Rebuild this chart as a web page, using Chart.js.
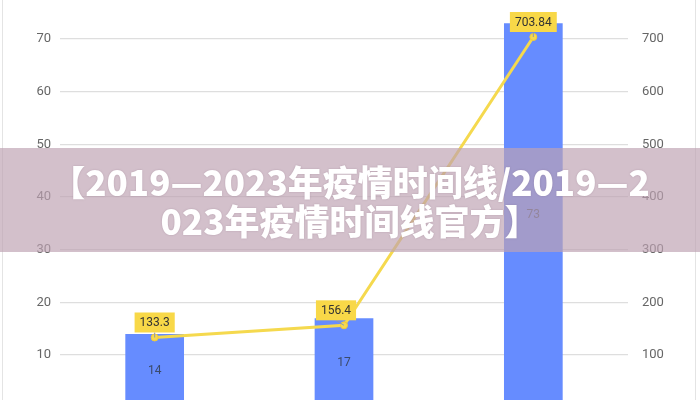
<!DOCTYPE html>
<html>
<head>
<meta charset="utf-8">
<script src="https://cdn.jsdelivr.net/npm/chart.js@4"></script>
<style>
  html, body { margin: 0; padding: 0; background: #fff; }
  #wrap { position: relative; width: 700px; height: 400px; overflow: hidden; }
  #frame { position: absolute; left: 2px; top: -2px; width: 694px; height: 410px; border: 1px solid #e4e4e4; box-sizing: border-box; pointer-events: none; }
  canvas { position: absolute; left: 0; top: 0; }
  #band {
    position: absolute; left: 0; top: 148px; width: 700px; height: 104px;
    background: rgba(190, 162, 178, 0.68);
    display: flex; align-items: center; justify-content: center;
  }
  #band span {
    color: #fff; font-family: "Noto Sans CJK SC", sans-serif; font-weight: 900;
    font-size: 35px; line-height: 39px; text-align: center; white-space: nowrap;
    text-shadow: 0 0 2px rgba(120, 90, 110, 0.35);
  }
</style>
</head>
<body>
<div id="wrap">
  <canvas id="c" width="700" height="400"></canvas>
  <div id="frame"></div>
  <div id="band"><span>【2019—2023年疫情时间线/2019—2<br>023年疫情时间线官方】</span></div>
</div>
<script>
// 数据（读自参考图）
const categories = ["A", "B", "C"]
const barValues = [14, 17, 73]
const lineValues = [133.3, 156.4, 703.84]
const leftTicks = [10, 20, 30, 40, 50, 60, 70]
const rightTicks = [100, 200, 300, 400, 500, 600, 700]

const BAR_COLOR = "#668cff"
const LINE_COLOR = "#f5d94e"
const TICK_FONT = { family: "'Liberation Sans Narrow', Roboto, sans-serif", size: 13 }

// 柱内数值 + 折线黄色标签
const labelPlugin = {
  id: "labels",
  afterDatasetsDraw(chart) {
    const ctx = chart.ctx
    const yL = chart.scales.y
    ctx.save()
    ctx.font = "12px 'Liberation Sans Narrow', Roboto, sans-serif"
    ctx.textAlign = "center"
    ctx.textBaseline = "middle"

    chart.getDatasetMeta(0).data.forEach((bar, i) => {
      ctx.fillStyle = "#3b4a6b"
      ctx.fillText(String(barValues[i]), bar.x, yL.getPixelForValue(barValues[i] / 2))
    })

    chart.getDatasetMeta(1).data.forEach((pt, i) => {
      const text = String(lineValues[i])
      const w = ctx.measureText(text).width + 10
      const h = 20
      const bx = pt.x - w / 2 - (i === 1 ? 8 : 0)
      const by = pt.y - h - 5
      // 引导线
      ctx.strokeStyle = "#8c98b4"
      ctx.lineWidth = 1
      ctx.beginPath()
      ctx.moveTo(bx + w / 2, by + h)
      ctx.lineTo(pt.x, pt.y)
      ctx.stroke()
      ctx.fillStyle = "#f8d848"
      ctx.fillRect(bx, by, w, h)
      ctx.fillStyle = "#333"
      ctx.fillText(text, bx + w / 2, by + h / 2 + 1)
    })
    ctx.restore()
  }
}

// 去掉刻度标签带来的上下留白
function noPad(s) {
  s.paddingTop = 0
  s.paddingBottom = 0
}

new Chart(document.getElementById("c"), {
  type: "bar",
  data: {
    labels: categories,
    datasets: [
      {
        type: "bar",
        data: barValues,
        backgroundColor: BAR_COLOR,
        yAxisID: "y",
        base: 0,
        clip: false,
        categoryPercentage: 1,
        barPercentage: 0.31,
        order: 2
      },
      {
        type: "line",
        data: lineValues,
        borderColor: LINE_COLOR,
        borderWidth: 3,
        pointRadius: 3.5,
        pointBackgroundColor: LINE_COLOR,
        pointBorderColor: "#f0c93a",
        pointBorderWidth: 1,
        yAxisID: "y1",
        order: 1
      }
    ]
  },
  options: {
    responsive: false,
    animation: false,
    layout: { padding: 0 },
    plugins: { legend: { display: false }, tooltip: { enabled: false } },
    scales: {
      x: { display: false },
      y: {
        position: "left",
        min: 2.41,
        max: 76.46,
        afterFit(s) { s.width = 60; noPad(s) },
        afterBuildTicks(s) { s.ticks = leftTicks.map(v => ({ value: v })) },
        border: { display: false },
        grid: { color: "#dedede", lineWidth: 1.3, drawTicks: false },
        ticks: { color: "#666", font: TICK_FONT, padding: 9 }
      },
      y1: {
        position: "right",
        min: 24.1,
        max: 764.6,
        afterFit(s) { s.width = 72; noPad(s) },
        afterBuildTicks(s) { s.ticks = rightTicks.map(v => ({ value: v })) },
        border: { display: false },
        grid: { display: false },
        ticks: { color: "#666", font: TICK_FONT, padding: 6 }
      }
    }
  },
  plugins: [labelPlugin]
})
</script>
</body>
</html>
